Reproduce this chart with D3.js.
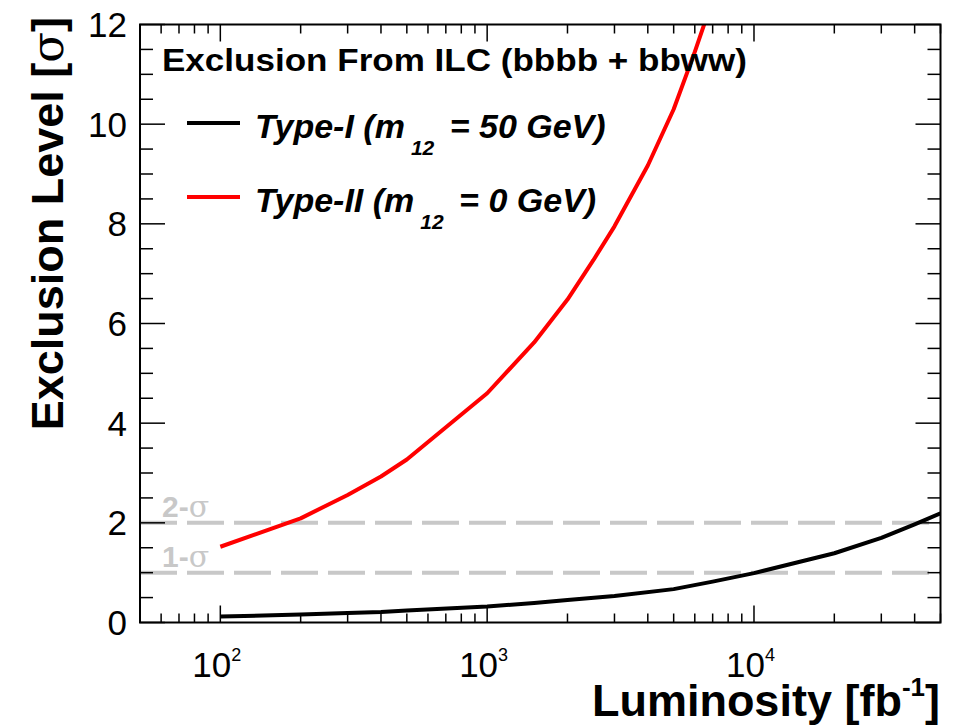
<!DOCTYPE html>
<html>
<head>
<meta charset="utf-8">
<script src="https://cdn.jsdelivr.net/npm/d3@7"></script>
<style>
  html, body { margin: 0; padding: 0; background: #fff; }
  text { font-family: "Liberation Sans", Arial, Helvetica, sans-serif; }
</style>
</head>
<body>
<svg id="chart" width="971" height="725"></svg>
<script>
// ---- data ----
const lumiTypeI  = [100, 200, 300, 400, 500, 1000, 1500, 2000, 3000, 5000, 7000, 10000, 20000, 30000, 40000, 50000];
const sigmaTypeI = [0.12, 0.16, 0.19, 0.21, 0.24, 0.32, 0.39, 0.45, 0.53, 0.67, 0.82, 0.99, 1.39, 1.70, 1.97, 2.19];
const lumiTypeII  = [100, 200, 300, 400, 500, 1000, 1500, 2000, 2500, 3000, 4000, 5000, 6000, 7000];
const sigmaTypeII = [1.52, 2.09, 2.56, 2.93, 3.27, 4.60, 5.62, 6.48, 7.27, 7.95, 9.17, 10.3, 11.45, 12.5];
const refLevels = [1, 2];
const refLabels = ["1-", "2-"];
const yTickValues = [0, 2, 4, 6, 8, 10, 12];
const xTickExponents = [2, 3, 4];
const seriesNames = ["Type-I", "Type-II"];
const seriesMasses = ["50", "0"];
const titleText = "Exclusion From ILC (bbbb + bbww)";

// ---- layout ----
const svg = d3.select("#chart");
const L = 140, R = 940.5, T = 24.5, B = 622.5;
const x = d3.scaleLog().domain([50, 5e4]).range([L, R]);
const y = d3.scaleLinear().domain([0, 12]).range([B, T]);

svg.append("defs").append("clipPath").attr("id", "clip")
  .append("rect").attr("x", L).attr("y", T).attr("width", R - L).attr("height", B - T);

// reference dashed lines
refLevels.forEach((lv, i) => {
  svg.append("line")
    .attr("x1", L).attr("x2", R).attr("y1", y(lv)).attr("y2", y(lv))
    .attr("stroke", "#c8c8c8").attr("stroke-width", 4)
    .attr("stroke-dasharray", "37,10");
  const t = svg.append("text")
    .attr("x", 162).attr("y", y(lv) - 6)
    .attr("fill", "#c8c8c8").attr("font-size", 30).attr("font-weight", "bold");
  t.append("tspan").text(refLabels[i]);
  t.append("tspan").attr("font-weight", "normal").attr("font-family", "DejaVu Serif, serif").text("σ");
});

// curves
const line = d3.line().x(d => x(d[0])).y(d => y(d[1]));
const g = svg.append("g").attr("clip-path", "url(#clip)");
g.append("path").datum(d3.zip(lumiTypeI, sigmaTypeI))
  .attr("d", line).attr("fill", "none").attr("stroke", "#000").attr("stroke-width", 4).attr("stroke-linejoin", "round");
g.append("path").datum(d3.zip(lumiTypeII, sigmaTypeII))
  .attr("d", line).attr("fill", "none").attr("stroke", "#ff0000").attr("stroke-width", 4).attr("stroke-linejoin", "round");

// frame
svg.append("rect").attr("x", L).attr("y", T).attr("width", R - L).attr("height", B - T)
  .attr("fill", "none").attr("stroke", "#000").attr("stroke-width", 2);

// y ticks (major every 2, minor every 0.5), both sides
const yMinor = d3.range(0, 12.01, 0.5);
yMinor.forEach(v => {
  const major = Math.abs(v % 2) < 1e-6;
  const len = major ? 25 : 13;
  svg.append("line").attr("x1", L).attr("x2", L + len).attr("y1", y(v)).attr("y2", y(v))
    .attr("stroke", "#000").attr("stroke-width", 1.5);
  svg.append("line").attr("x1", R).attr("x2", R - len).attr("y1", y(v)).attr("y2", y(v))
    .attr("stroke", "#000").attr("stroke-width", 1.5);
});
yTickValues.forEach(v => {
  svg.append("text").attr("x", 127).attr("y", y(v)).attr("dy", "0.36em")
    .attr("text-anchor", "end").attr("font-size", 35).text(v);
});

// x ticks (log)
const xTicks = x.ticks().filter(v => v >= 50 && v <= 5e4);
xTicks.forEach(v => {
  const major = Math.abs(Math.log10(v) - Math.round(Math.log10(v))) < 1e-9;
  const len = major ? 17 : 9;
  svg.append("line").attr("x1", x(v)).attr("x2", x(v)).attr("y1", B).attr("y2", B - len)
    .attr("stroke", "#000").attr("stroke-width", 1.5);
  svg.append("line").attr("x1", x(v)).attr("x2", x(v)).attr("y1", T).attr("y2", T + len)
    .attr("stroke", "#000").attr("stroke-width", 1.5);
});
xTickExponents.forEach(e => {
  const t = svg.append("text").attr("x", x(Math.pow(10, e)) - 28).attr("y", 677)
    .attr("font-size", 35);
  t.append("tspan").text("10");
  t.append("tspan").attr("font-size", 18).attr("dy", -16).text(e);
});

// axis titles
const yt = svg.append("text")
  .attr("transform", "translate(63,17) rotate(-90)")
  .attr("text-anchor", "end").attr("font-size", 45).attr("font-weight", "bold");
yt.append("tspan").text("Exclusion Level [");
yt.append("tspan").attr("font-weight", "normal").attr("font-family", "DejaVu Serif, serif").text("σ");
yt.append("tspan").text("]");

const xt = svg.append("text").attr("x", 940).attr("y", 716)
  .attr("text-anchor", "end").attr("font-size", 45).attr("font-weight", "bold");
xt.append("tspan").text("Luminosity [fb");
xt.append("tspan").attr("font-size", 26).attr("dy", -20).text("-1");
xt.append("tspan").attr("dy", 20).text("]");

// title
svg.append("text").attr("x", 162).attr("y", 71)
  .attr("font-size", 31).attr("font-weight", "bold")
  .attr("textLength", 585).attr("lengthAdjust", "spacingAndGlyphs")
  .text(titleText);

// legend
const legColors = ["#000", "#ff0000"];
const legY = [123, 197];
seriesNames.forEach((n, i) => {
  svg.append("line").attr("x1", 187).attr("x2", 240).attr("y1", legY[i]).attr("y2", legY[i])
    .attr("stroke", legColors[i]).attr("stroke-width", 4);
  const t = svg.append("text").attr("x", 255).attr("y", legY[i] + 15)
    .attr("font-size", 34).attr("font-weight", "bold").attr("font-style", "italic");
  t.append("tspan").text(n + " (m");
  t.append("tspan").attr("font-size", 21).attr("dx", 6).attr("dy", 17).text("12");
  t.append("tspan").attr("dx", 6).attr("dy", -17).text(" = " + seriesMasses[i] + " GeV)");
});
</script>
</body>
</html>
